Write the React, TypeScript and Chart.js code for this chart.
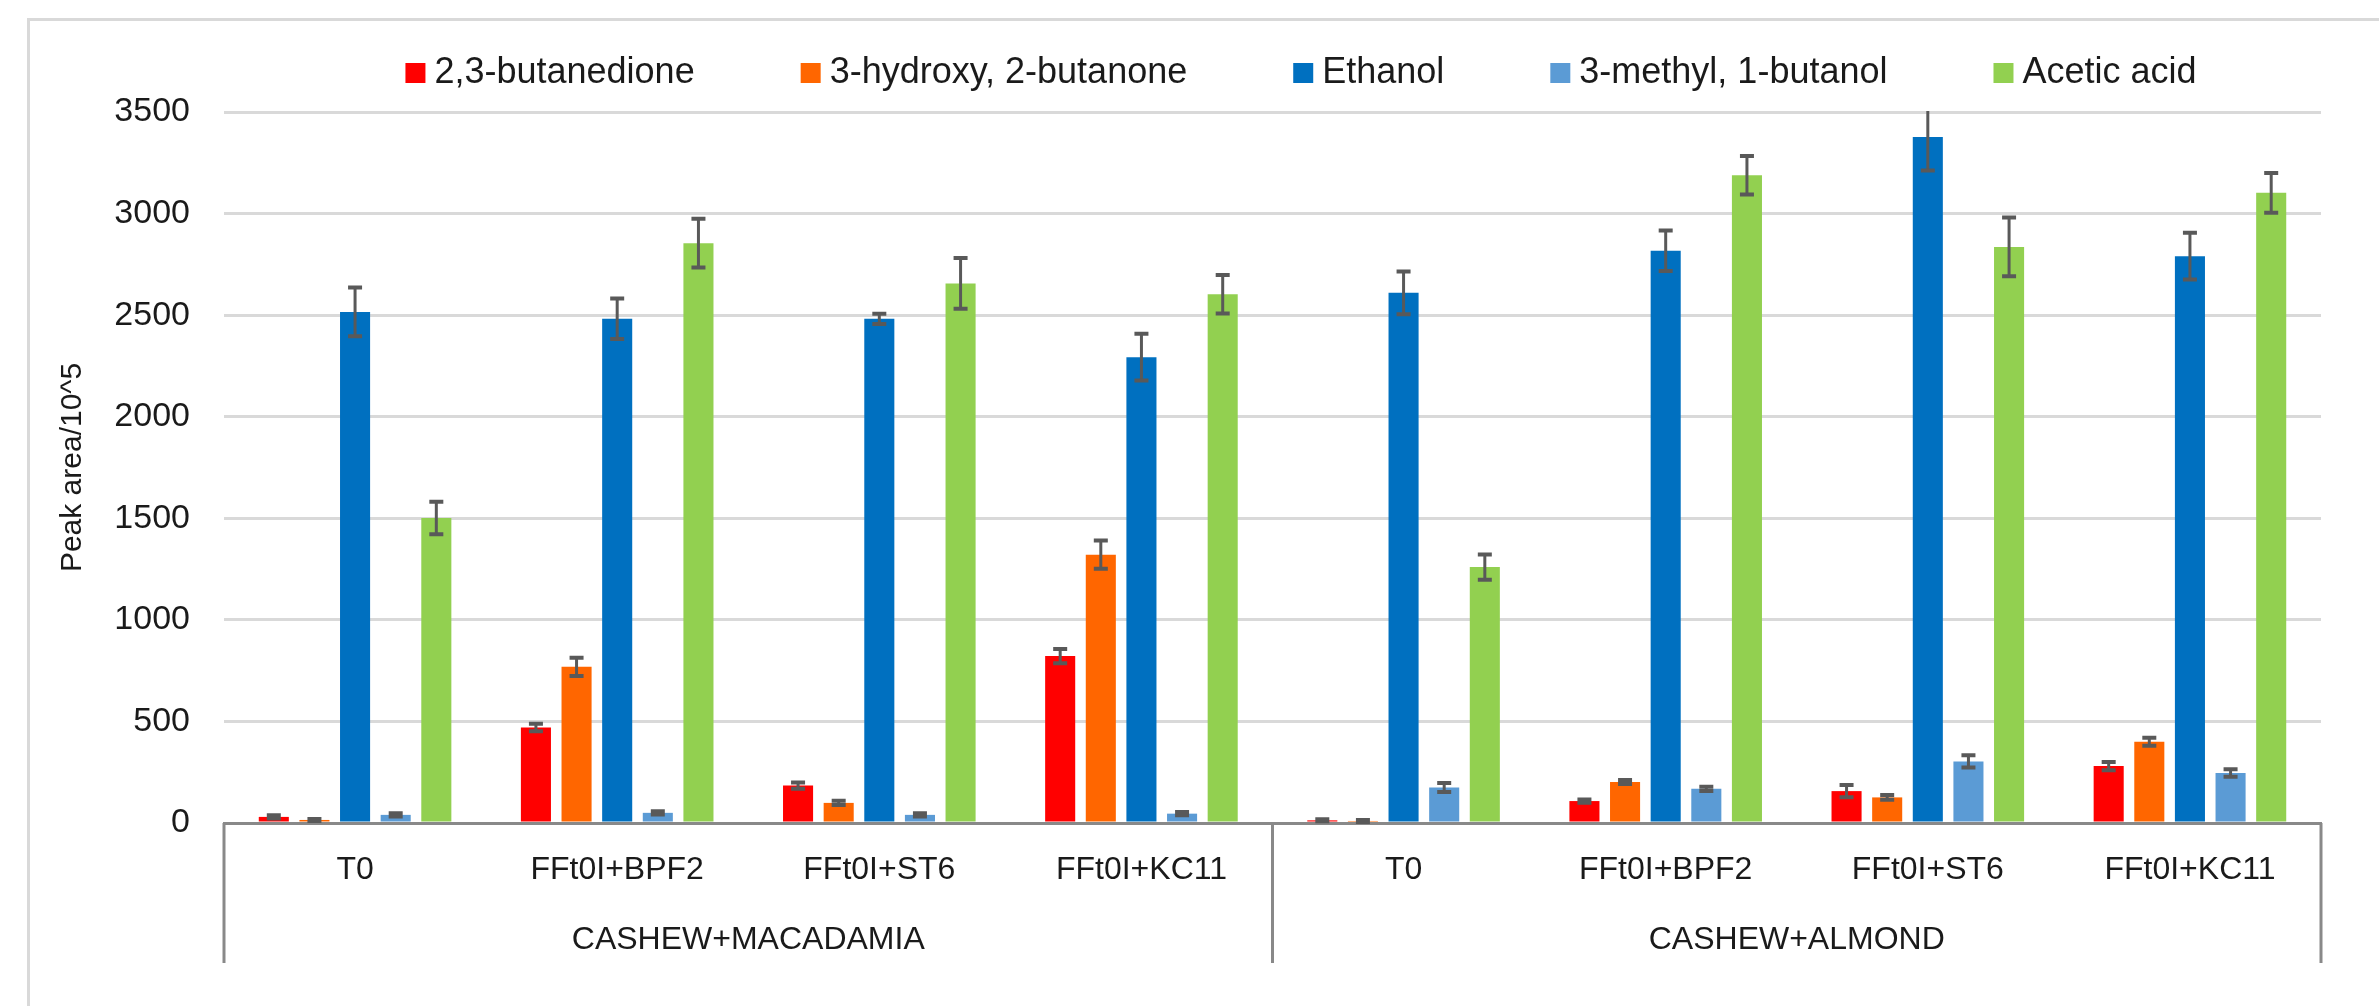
import { useEffect, useRef } from "react";
import { Chart, registerables } from "chart.js";

Chart.register(...registerables);

const FONT = "'Liberation Sans', Arial, sans-serif";

const categories = ["T0", "FFt0I+BPF2", "FFt0I+ST6", "FFt0I+KC11", "T0", "FFt0I+BPF2", "FFt0I+ST6", "FFt0I+KC11"];
const groups = ["CASHEW+MACADAMIA", "CASHEW+ALMOND"];
const groupSizes = [4, 4];

const seriesNames = ["2,3-butanedione", "3-hydroxy, 2-butanone", "Ethanol", "3-methyl, 1-butanol", "Acetic acid"];
const seriesColors = ["#FF0000", "#FF6600", "#0070C0", "#5B9BD5", "#92D050"];

const butanedione = [30, 470, 184, 822, 13, 108, 157, 280];
const butanedioneErr = [8, 18, 15, 35, 5, 8, 30, 20];
const hydroxyButanone = [15, 769, 99, 1321, 10, 202, 126, 400];
const hydroxyButanoneErr = [5, 45, 10, 70, 5, 10, 12, 20];
const ethanol = [2516, 2482, 2482, 2293, 2610, 2817, 3377, 2790];
const ethanolErr = [120, 100, 25, 115, 105, 100, 165, 115];
const methylButanol = [40, 50, 40, 46, 175, 168, 303, 246];
const methylButanolErr = [8, 8, 8, 8, 22, 10, 30, 18];
const aceticAcid = [1501, 2854, 2656, 2603, 1260, 3189, 2836, 3102];
const aceticAcidErr = [80, 120, 125, 95, 62, 95, 145, 98];

const seriesValues = [butanedione, hydroxyButanone, ethanol, methylButanol, aceticAcid];
const seriesErrors = [butanedioneErr, hydroxyButanoneErr, ethanolErr, methylButanolErr, aceticAcidErr];

const yMin = 0;
const yMax = 3500;
const yStep = 500;
const yTitle = "Peak area/10^5";

const framePlugin = {
  id: "frame",
  beforeDraw(chart: any) {
    const ctx = chart.ctx;
    ctx.save();
    ctx.fillStyle = "#ffffff";
    ctx.fillRect(0, 0, chart.width, chart.height);
    ctx.strokeStyle = "#d9d9d9";
    ctx.lineWidth = 3;
    ctx.strokeRect(28.5, 19.5, chart.width + 50, chart.height + 50);
    ctx.restore();
  },
};

const errorBarPlugin = {
  id: "errorBars",
  afterDatasetsDraw(chart: any) {
    const ctx = chart.ctx;
    const y = chart.scales.y;
    const area = chart.chartArea;
    ctx.save();
    ctx.beginPath();
    ctx.rect(area.left, area.top - 1, area.right - area.left, area.bottom - area.top + 2);
    ctx.clip();
    ctx.strokeStyle = "#595959";
    chart.data.datasets.forEach((ds: any, di: number) => {
      const meta = chart.getDatasetMeta(di);
      const errs = seriesErrors[di];
      meta.data.forEach((bar: any, i: number) => {
        const v = ds.data[i];
        const e = errs[i];
        const yTop = y.getPixelForValue(v + e);
        const yBot = y.getPixelForValue(v - e);
        const x = bar.x;
        const cap = 7;
        ctx.lineWidth = 3;
        ctx.beginPath();
        ctx.moveTo(x, yTop);
        ctx.lineTo(x, yBot);
        ctx.stroke();
        ctx.lineWidth = 4;
        ctx.beginPath();
        ctx.moveTo(x - cap, yTop);
        ctx.lineTo(x + cap, yTop);
        ctx.moveTo(x - cap, yBot);
        ctx.lineTo(x + cap, yBot);
        ctx.stroke();
      });
    });
    ctx.restore();
  },
};

const groupAxisPlugin = {
  id: "groupAxis",
  afterDraw(chart: any) {
    const ctx = chart.ctx;
    const xs = chart.scales.x;
    const area = chart.chartArea;
    const lineBottom = 963;
    ctx.save();
    ctx.strokeStyle = "#898989";
    ctx.lineWidth = 3;
    const bounds: number[] = [area.left];
    let idx = 0;
    groupSizes.forEach((n, gi) => {
      idx += n;
      if (gi < groupSizes.length - 1) {
        bounds.push((xs.getPixelForValue(idx - 1) + xs.getPixelForValue(idx)) / 2);
      }
    });
    bounds.push(area.right);
    bounds.forEach((bx) => {
      ctx.beginPath();
      ctx.moveTo(bx, area.bottom);
      ctx.lineTo(bx, lineBottom);
      ctx.stroke();
    });
    ctx.fillStyle = "#1a1a1a";
    ctx.font = `32px ${FONT}`;
    ctx.textAlign = "center";
    ctx.textBaseline = "middle";
    groups.forEach((g, gi) => {
      ctx.fillText(g, (bounds[gi] + bounds[gi + 1]) / 2, 940);
    });
    ctx.restore();
  },
};

const legendPlugin = {
  id: "customLegend",
  afterDraw(chart: any) {
    const ctx = chart.ctx;
    ctx.save();
    ctx.font = `36px ${FONT}`;
    ctx.textBaseline = "middle";
    ctx.textAlign = "left";
    const boxW = 20;
    const boxH = 20;
    const boxGap = 29;
    const itemGap = 106;
    const ds = chart.data.datasets;
    const widths = ds.map((d: any) => ctx.measureText(d.label).width);
    let total = 0;
    widths.forEach((w: number, i: number) => {
      total += boxGap + w + (i < widths.length - 1 ? itemGap : 0);
    });
    let x = 1301 - total / 2;
    const yc = 73;
    ds.forEach((d: any, i: number) => {
      ctx.fillStyle = d.backgroundColor;
      ctx.fillRect(x, yc - boxH / 2, boxW, boxH);
      ctx.fillStyle = "#1a1a1a";
      ctx.fillText(d.label, x + boxGap, yc);
      x += boxGap + widths[i] + itemGap;
    });
    ctx.restore();
  },
};

export default function App() {
  const ref = useRef<HTMLCanvasElement>(null);
  useEffect(() => {
    const canvas = ref.current!;
    const chart = new Chart(canvas, {
      type: "bar",
      data: {
        labels: categories,
        datasets: seriesNames.map((name, i) => ({
          label: name,
          data: seriesValues[i],
          backgroundColor: seriesColors[i],
          borderWidth: 0,
          categoryPercentage: 0.775,
          barPercentage: 0.74,
        })),
      },
      options: {
        responsive: false,
        animation: false,
        devicePixelRatio: 1,
        layout: { padding: { top: 112, right: 58, bottom: 0, left: 0 } },
        plugins: {
          legend: { display: false },
          tooltip: { enabled: false },
        },
        scales: {
          x: {
            grid: { display: false, drawTicks: false },
            border: { display: true, color: "#898989", width: 3 },
            ticks: {
              autoSkip: false,
              maxRotation: 0,
              minRotation: 0,
              padding: 28,
              color: "#1a1a1a",
              font: { size: 32, family: FONT },
            },
            afterFit: (s: any) => {
              s.height = 183;
            },
          },
          y: {
            min: yMin,
            max: yMax,
            ticks: {
              stepSize: yStep,
              padding: 34,
              color: "#1a1a1a",
              font: { size: 34, family: FONT },
              callback: (v: any) => String(v),
            },
            grid: {
              color: (c: any) => (c.tick && c.tick.value === 0 ? "#898989" : "#d9d9d9"),
              lineWidth: 3,
              drawTicks: false,
            },
            border: { display: false },
            title: {
              display: true,
              text: yTitle,
              color: "#1a1a1a",
              font: { size: 30, family: FONT },
              padding: { top: 55, bottom: 0 },
            },
            afterFit: (s: any) => {
              s.width = 224;
            },
          },
        },
      },
      plugins: [framePlugin, errorBarPlugin, groupAxisPlugin, legendPlugin],
    } as any);
    return () => chart.destroy();
  }, []);
  return (
    <div style={{ position: "absolute", left: 0, top: 0, width: 2379, height: 1006, background: "#fff" }}>
      <canvas ref={ref} width={2379} height={1006} style={{ display: "block", width: 2379, height: 1006 }} />
    </div>
  );
}
